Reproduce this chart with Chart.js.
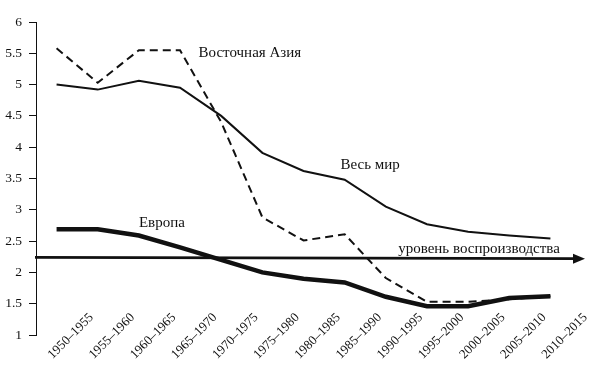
<!DOCTYPE html>
<html lang="ru">
  <head>
    <meta charset="UTF-8" />
    <title>Суммарный коэффициент рождаемости</title>
    <script src="https://cdn.jsdelivr.net/npm/chart.js"></script>
    <style>
      body {
        margin: 0;
        background: #fff;
      }
      canvas {
        display: block;
      }
    </style>
  </head>
  <body>
    <canvas id="fertilityChart" width="600" height="367"></canvas>

    <script>
      // periods and values
      const periods = [
        '1950–1955', '1955–1960', '1960–1965', '1965–1970', '1970–1975', '1975–1980', '1980–1985',
        '1985–1990', '1990–1995', '1995–2000', '2000–2005', '2005–2010', '2010–2015',
      ]
      const world = [5.0, 4.92, 5.06, 4.95, 4.5, 3.91, 3.62, 3.48, 3.05, 2.77, 2.65, 2.59, 2.54]
      const eastAsia = [5.58, 5.03, 5.55, 5.55, 4.4, 2.88, 2.51, 2.61, 1.91, 1.53, 1.53, 1.57, 1.62]
      const europe = [2.69, 2.69, 2.59, 2.4, 2.2, 2.0, 1.9, 1.84, 1.61, 1.46, 1.46, 1.59, 1.62]
      const replacementLevel = [2.24, 2.22] // left end, right end (arrow)

      // text labels: [text, category position, value]
      const notes = [
        ['Восточная Азия', 3.45, 5.5],
        ['Весь мир', 6.9, 3.72],
        ['Европа', 2.0, 2.79],
        ['уровень воспроизводства', 8.3, 2.37],
      ]

      const serif = '"Liberation Serif", "DejaVu Serif", serif'

      // arrow line + text labels
      const overlay = {
        id: 'overlay',
        afterDatasetsDraw(chart) {
          const { ctx, chartArea, scales } = chart
          const y = scales.y
          const x = scales.x
          const x0 = chartArea.left - 1
          const x1 = chartArea.right + 14
          const y0 = y.getPixelForValue(replacementLevel[0])
          const y1 = y.getPixelForValue(replacementLevel[1])
          ctx.save()
          ctx.strokeStyle = '#111'
          ctx.fillStyle = '#111'
          ctx.lineWidth = 2.6
          ctx.beginPath()
          ctx.moveTo(x0, y0)
          ctx.lineTo(x1 - 8, y1)
          ctx.stroke()
          // arrowhead
          ctx.beginPath()
          ctx.moveTo(x1, y1)
          ctx.lineTo(x1 - 12, y1 - 5)
          ctx.lineTo(x1 - 12, y1 + 5)
          ctx.closePath()
          ctx.fill()

          ctx.font = '15px ' + serif
          ctx.textAlign = 'left'
          ctx.textBaseline = 'middle'
          notes.forEach(([text, pos, val]) => {
            ctx.fillText(text, x.getPixelForValue(pos), y.getPixelForValue(val))
          })
          ctx.restore()
        },
      }

      const ctx = document.getElementById('fertilityChart').getContext('2d')

      new Chart(ctx, {
        type: 'line',
        data: {
          labels: periods,
          datasets: [
            {
              label: 'Весь мир',
              data: world,
              borderColor: '#111',
              borderWidth: 2,
            },
            {
              label: 'Восточная Азия',
              data: eastAsia,
              borderColor: '#111',
              borderWidth: 2,
              borderDash: [8, 5],
            },
            {
              label: 'Европа',
              data: europe,
              borderColor: '#111',
              borderWidth: 4.5,
            },
          ],
        },
        options: {
          responsive: false,
          animation: false,
          layout: { padding: { top: 22, right: 29, left: 0, bottom: 0 } },
          elements: {
            line: { tension: 0, fill: false },
            point: { radius: 0, hoverRadius: 0 },
          },
          plugins: {
            legend: { display: false },
            tooltip: { enabled: false },
          },
          scales: {
            x: {
              offset: true,
              grid: { display: false },
              border: { display: false },
              ticks: {
                autoSkip: false,
                minRotation: 45,
                maxRotation: 45,
                mirror: true, // labels are not clipped to the axis box
                padding: 14,
                labelOffset: 46,
                color: '#111',
                font: { family: serif, size: 13 },
              },
              afterFit(scale) {
                scale.height = 32
                scale.paddingLeft = 0
                scale.paddingRight = 0
              },
            },
            y: {
              min: 1,
              max: 6,
              ticks: {
                stepSize: 0.5,
                padding: 7,
                color: '#111',
                font: { family: serif, size: 13.5 },
                callback: (v) => String(v),
              },
              grid: {
                drawOnChartArea: false,
                tickLength: 7,
                color: '#111',
              },
              border: { display: true, color: '#111', width: 1 },
              afterFit(scale) {
                scale.width = 36
              },
            },
          },
        },
        plugins: [overlay],
      })
    </script>
  </body>
</html>
